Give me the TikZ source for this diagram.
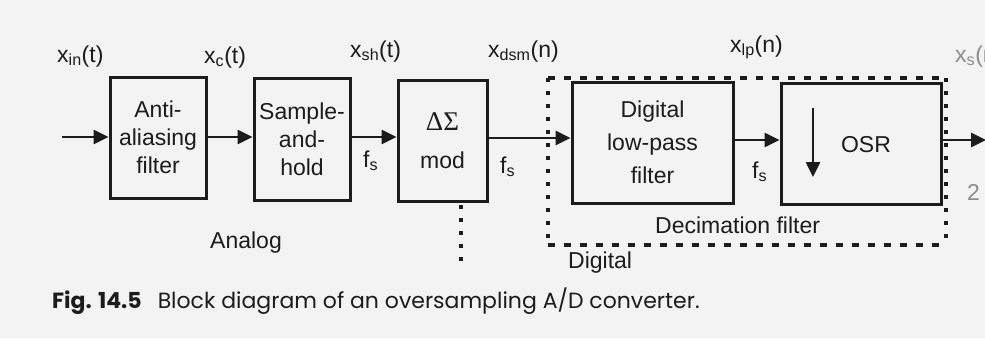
\documentclass[tikz,border=0pt]{standalone}
\usepackage{fontspec}
\setmainfont{Liberation Sans}
\newfontfamily\capfont{Poppins}
\newfontfamily\grfont{Liberation Serif}
\usetikzlibrary{arrows.meta}
\definecolor{ink}{RGB}{28,28,28}
\definecolor{paper}{RGB}{243,243,243}
\definecolor{faint}{RGB}{140,140,140}
\begin{document}
\begin{tikzpicture}[x=1pt,y=-1pt,
  blk/.style={draw=ink, line width=3pt, inner sep=0pt, align=center, text=ink,
              font=\fontsize{23}{28}\selectfont},
  lbl/.style={font=\fontsize{23}{28}\selectfont, text=ink, inner sep=0pt, anchor=base west},
  arr/.style={draw=ink, line width=2.6pt, -{Triangle[length=15pt,width=14pt]}},
  dotv/.style={draw=ink, line width=3.2pt, dash pattern=on 4pt off 9pt},
  doth/.style={draw=ink, line width=3.2pt, dash pattern=on 7pt off 9pt}]
\fill[paper] (0,0) rectangle (985,338);
\useasboundingbox (0,0) rectangle (985,338);

% blocks
\node[blk, minimum width=96pt, minimum height=121pt] (aa) at (158,137.5) {Anti-\\aliasing\\filter};
\node[blk, minimum width=96pt, minimum height=122pt] (sh) at (302,139) {Sample-\\and-\\hold};
\node[blk, minimum width=89pt, minimum height=121pt] (ds) at (442.5,140.5) {{\grfont\fontsize{27}{28}\selectfont ΔΣ}\\[10pt]mod};
\node[blk, minimum width=161pt, minimum height=121pt, font=\fontsize{23}{33}\selectfont] (lp) at (652.5,142.5) {Digital\\low-pass\\filter};
\node[blk, minimum width=160pt, minimum height=121pt] (osr) at (861,143.5) {};
\node[lbl, anchor=center] (osrl) at (866,145) {OSR};
\coordinate (dnA) at (813,108);
\coordinate (dnB) at (813,177);
\draw[arr] (dnA) -- (dnB);

% connectors
\coordinate (in) at (62,137);
\coordinate (out) at (986,140);
\draw[arr] (in) -- (in -| aa.west);
\draw[arr] (aa.east |- 0,137) -- (sh.west |- 0,137);
\draw[arr] (sh.east |- 0,137) -- (ds.west |- 0,137);
\draw[arr] (ds.east |- 0,138) -- (lp.west |- 0,138);
\draw[arr] (lp.east |- 0,140) -- (osr.west |- 0,140);
\draw[arr] (osr.east |- out) -- (out);

% signal labels
\node[lbl] (lin) at (57,62) {x\textsubscript{in}(t)};
\node[lbl] (lc) at (204,63) {x\textsubscript{c}(t)};
\node[lbl] (lsh) at (350,57) {x\textsubscript{sh}(t)};
\node[lbl] (ldsm) at (488,57) {x\textsubscript{dsm}(n)};
\node[lbl] (llp) at (730,52) {x\textsubscript{lp}(n)};
\node[lbl] (fs1) at (363,167) {f\textsubscript{s}};
\node[lbl] (fs2) at (500,173) {f\textsubscript{s}};
\node[lbl] (fs3) at (752,178) {f\textsubscript{s}};

% domains
\coordinate (dA) at (461,205);
\coordinate (dB) at (461,262);
\draw[dotv] (dA) -- (dB);
\coordinate (r1) at (548,78);
\coordinate (r2) at (946,78);
\coordinate (r3) at (946,245);
\coordinate (r4) at (548,245);
\draw[doth] (r1) -- (r2);
\draw[doth] (r4) -- (r3);
\draw[dotv] (r1) -- (r4);
\draw[dotv] (r2) -- (r3);
\node[lbl] (analog) at (210,248) {Analog};
\node[lbl] (dec) at (655,233) {Decimation filter};
\node[lbl] (digital) at (568,268) {Digital};

% cut-off fragments at the right edge
\node[lbl, text=faint] (xs) at (955,62) {x\textsubscript{s}(n)};
\node[lbl, text=faint] (two) at (967,200) {2};

% caption
\node[inner sep=0pt, anchor=base west, text=ink, font=\capfont\fontsize{22}{26}\selectfont] (cap) at (52,308)
  {\textbf{Fig. 14.5}\hspace{16pt}Block diagram of an oversampling A/D converter.};
\end{tikzpicture}
\end{document}
